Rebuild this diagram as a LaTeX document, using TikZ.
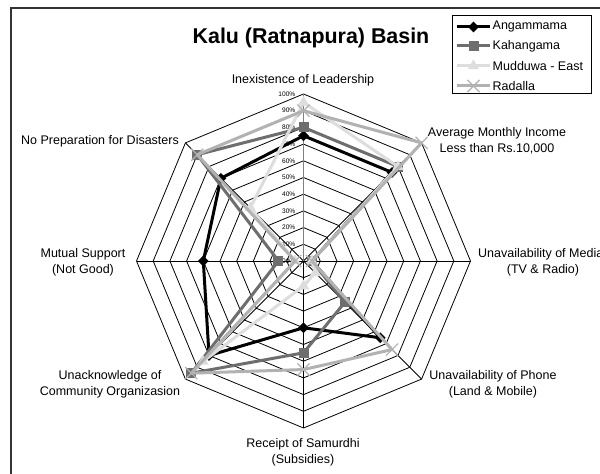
\documentclass[tikz,border=0pt]{standalone}
\usepackage{fontspec}
\setmainfont{Liberation Sans}
\usetikzlibrary{shapes.geometric,shapes.misc}

\definecolor{frameline}{HTML}{333333}
\definecolor{angam}{HTML}{000000}
\definecolor{kahan}{HTML}{6E6E6E}
\definecolor{muddu}{HTML}{DDDDDD}
\definecolor{radal}{HTML}{B2B2B2}
\definecolor{valaxis}{HTML}{808080}

\tikzset{
  gridring/.style={black, line width=0.8pt, line join=miter},
  spoke/.style={black, line width=0.8pt},
  valspoke/.style={valaxis, line width=1.2pt},
  series/.style={line width=3pt, line join=round},
  axlabel/.style={font=\fontsize{12.5}{16}\selectfont, align=center, inner sep=0pt},
  legtext/.style={font=\fontsize{12.5}{15}\selectfont, anchor=west, inner sep=0pt},
  pctlabel/.style={font=\fontsize{6.6}{7}\selectfont, anchor=east, inner sep=0pt},
  mdiamond/.style={diamond, fill=angam, minimum width=11pt, minimum height=11pt, inner sep=0pt},
  msquare/.style={rectangle, fill=kahan, minimum size=10pt, inner sep=0pt},
  mtriangle/.style={regular polygon, regular polygon sides=3, fill=muddu, minimum size=13pt, inner sep=0pt},
  mcross/.style={cross out, draw=radal, line width=1.2pt, minimum size=11pt, inner sep=0pt},
}

\begin{document}
\begin{tikzpicture}[x=1pt,y=1pt]
\useasboundingbox (0,0) rectangle (600,474);
\clip (0,0) rectangle (600,474);
\fill[white] (0,0) rectangle (600,474);

% chart area frame (runs off the page on the right and bottom)
\draw[frameline, line width=2pt] (11,-10) -- (11,466) -- (620,466);

\node[font=\fontsize{21.4}{24}\selectfont\bfseries] (title) at (311,436) {Kalu (Ratnapura) Basin};

\begin{scope}[shift={(303.5,213)}]
  \coordinate (c) at (0,0);
  % grid rings, 10% steps
  \foreach \k in {1,...,10} {
    \draw[gridring] (90:{\k*16.7}) \foreach \a in {45,0,...,-225}{ -- (\a:{\k*16.7})} -- cycle;
  }
  % spokes
  \foreach \i in {0,...,7} \coordinate (ax\i) at ({90-45*\i}:167);
  \foreach \i in {1,...,7} \draw[spoke] (c) -- (ax\i);
  \draw[valspoke] (c) -- (ax0);
  % value axis labels
  \foreach \k in {0,...,10} \node[pctlabel] (pct\k) at (-8,{\k*16.7}) {\k0\%};

  % Angammama
  \foreach \v [count=\i from 0] in {75,75,5,65,40,80,60,70}
    \coordinate (ang\i) at ({90-45*\i}:{\v*1.67});
  \draw[series, angam] (ang0) -- (ang1) -- (ang2) -- (ang3) -- (ang4) -- (ang5) -- (ang6) -- (ang7) -- cycle;
  \foreach \i in {0,...,7} \node[mdiamond] (angm\i) at (ang\i) {};

  % Kahangama
  \foreach \v [count=\i from 0] in {80,80,5,35,55,95,15,90}
    \coordinate (kah\i) at ({90-45*\i}:{\v*1.67});
  \draw[series, kahan] (kah0) -- (kah1) -- (kah2) -- (kah3) -- (kah4) -- (kah5) -- (kah6) -- (kah7) -- cycle;
  \foreach \i in {0,...,7} \node[msquare] (kahm\i) at (kah\i) {};

  % Mudduwa - East
  \foreach \v [count=\i from 0] in {95,80,5,10,15,85,5,45}
    \coordinate (mud\i) at ({90-45*\i}:{\v*1.67});
  \draw[series, muddu] (mud0) -- (mud1) -- (mud2) -- (mud3) -- (mud4) -- (mud5) -- (mud6) -- (mud7) -- cycle;
  \foreach \i in {0,...,7} \node[mtriangle] (mudm\i) at (mud\i) {};

  % Radalla
  \foreach \v [count=\i from 0] in {90,100,5,75,65,95,5,90}
    \coordinate (rad\i) at ({90-45*\i}:{\v*1.67});
  \draw[series, radal] (rad0) -- (rad1) -- (rad2) -- (rad3) -- (rad4) -- (rad5) -- (rad6) -- (rad7) -- cycle;
  \foreach \i in {0,...,7} \node[mcross] (radm\i) at (rad\i) {};
\end{scope}

% category labels
\node[axlabel] (l0) at (303,394) {Inexistence of Leadership};
\node[axlabel] (l1) at (497,333) {Average Monthly Income\\Less than Rs.10,000};
\node[axlabel, anchor=west] (l2) at (478,220) {Unavailability of Media};
\node[axlabel] (l2b) at (543,204) {(TV \& Radio)};
\node[axlabel] (l3) at (493,90) {Unavailability of Phone\\(Land \& Mobile)};
\node[axlabel] (l4) at (303,22) {Receipt of Samurdhi\\(Subsidies)};
\node[axlabel] (l5) at (110,90) {Unacknowledge of\\Community Organizasion};
\node[axlabel] (l6) at (83,212) {Mutual Support\\(Not Good)};
\node[axlabel] (l7) at (100,333) {No Preparation for Disasters};

% legend
\draw[black, line width=0.8pt] (452.7,381) rectangle (591.7,459);
\foreach \n/\y/\col/\mk/\txt in {a/447/angam/mdiamond/Angammama,
                                 b/428/kahan/msquare/Kahangama,
                                 c/408/muddu/mtriangle/Mudduwa - East,
                                 d/388/radal/mcross/Radalla} {
  \coordinate (leg\n s) at (457,\y);
  \coordinate (leg\n e) at (490,\y);
  \draw[series, \col] (leg\n s) -- (leg\n e);
  \node[\mk] (leg\n m) at (473.5,\y) {};
  \node[legtext] (leg\n t) at (492.5,\y) {\txt};
}
\end{tikzpicture}
\end{document}
